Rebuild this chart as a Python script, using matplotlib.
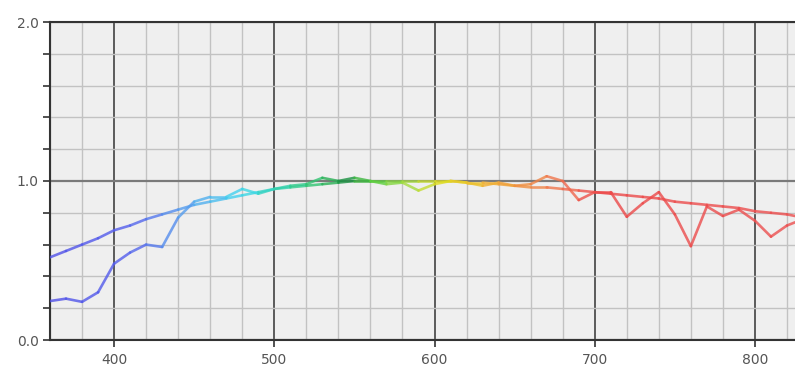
import matplotlib
matplotlib.use("Agg")
import matplotlib.pyplot as plt
import numpy as np
from matplotlib.collections import LineCollection
from matplotlib.colors import LinearSegmentedColormap, Normalize

# wavelength (nm)
wl = [360, 370, 380, 390, 400, 410, 420, 430, 440, 450, 460, 470, 480, 490,
      500, 510, 520, 530, 540, 550, 560, 570, 580, 590, 600, 610, 620, 630,
      640, 650, 660, 670, 680, 690, 700, 710, 720, 730, 740, 750, 760, 770,
      780, 790, 800, 810, 820, 825]

# smooth curve
smooth = [0.52, 0.56, 0.60, 0.64, 0.69, 0.72, 0.76, 0.79, 0.82, 0.85, 0.87,
          0.89, 0.91, 0.93, 0.95, 0.96, 0.97, 0.98, 0.99, 1.00, 1.00, 1.00,
          1.00, 1.00, 1.00, 1.00, 0.99, 0.99, 0.98, 0.97, 0.96, 0.96, 0.95,
          0.94, 0.93, 0.92, 0.91, 0.90, 0.89, 0.87, 0.86, 0.85, 0.84, 0.83,
          0.81, 0.80, 0.79, 0.78]

# jagged curve
jagged = [0.245, 0.26, 0.24, 0.30, 0.48, 0.55, 0.60, 0.585, 0.77, 0.87, 0.90,
          0.90, 0.95, 0.92, 0.95, 0.97, 0.98, 1.02, 1.00, 1.02, 1.00, 0.98,
          0.99, 0.94, 0.98, 1.00, 0.99, 0.97, 0.99, 0.97, 0.98, 1.03, 1.00,
          0.88, 0.93, 0.93, 0.775, 0.86, 0.93, 0.79, 0.59, 0.84, 0.78, 0.82,
          0.75, 0.65, 0.72, 0.74]

# colour stops along the spectrum
stops = [(360, "#5050e8"), (410, "#5560ec"), (450, "#55a8ee"), (480, "#40d8ee"),
         (505, "#30d0a8"), (530, "#30c060"), (545, "#1a9040"), (560, "#50cc40"),
         (585, "#a8dc40"), (605, "#e0dc20"), (630, "#f0b830"), (655, "#f09040"),
         (680, "#f07050"), (700, "#ec4848"), (825, "#ec5050")]
lo, hi = stops[0][0], stops[-1][0]
cmap = LinearSegmentedColormap.from_list(
    "spec", [((w - lo) / (hi - lo), c) for w, c in stops])
norm = Normalize(lo, hi)

fig = plt.figure(figsize=(7.95, 3.68), dpi=100)
ax = fig.add_axes([50 / 795, 28 / 368, 745 / 795, 318 / 368])
ax.set_facecolor("#efefef")


def spectral_line(x, y):
    x = np.asarray(x, float)
    y = np.asarray(y, float)
    pts = np.column_stack([x, y]).reshape(-1, 1, 2)
    segs = np.concatenate([pts[:-1], pts[1:]], axis=1)
    lc = LineCollection(segs, cmap=cmap, norm=norm, linewidth=1.9,
                        alpha=0.8, capstyle="round", joinstyle="round", zorder=3)
    lc.set_array((x[:-1] + x[1:]) / 2)
    ax.add_collection(lc)


spectral_line(wl, smooth)
spectral_line(wl, jagged)

ax.set_xlim(360, 825)
ax.set_ylim(0, 2.0)

ax.set_xticks([400, 500, 600, 700, 800])
ax.set_xticks(np.arange(360, 826, 20), minor=True)
ax.set_yticks([0.0, 1.0, 2.0])
ax.set_yticks(np.arange(0, 2.01, 0.2), minor=True)
ax.set_yticklabels(["0.0", "1.0", "2.0"])

ax.grid(which="minor", color="#c2c2c2", linewidth=1.0, zorder=1)
ax.grid(which="major", axis="x", color="#333333", linewidth=1.1, zorder=2)
ax.grid(which="major", axis="y", color="#7a7a7a", linewidth=1.6, zorder=2)
ax.set_axisbelow(True)

ax.tick_params(axis="x", which="major", direction="out", length=5, width=1.2,
               color="#333333", labelsize=10, labelcolor="#555555", pad=4)
ax.tick_params(axis="x", which="minor", length=0)
ax.tick_params(axis="y", which="both", direction="out", length=5, width=1.2,
               color="#333333", labelsize=10, labelcolor="#555555", pad=3)

for s in ["left", "bottom", "top"]:
    ax.spines[s].set_color("#333333")
    ax.spines[s].set_linewidth(1.5)
ax.spines["right"].set_visible(False)

fig.savefig("out.png", dpi=100)
